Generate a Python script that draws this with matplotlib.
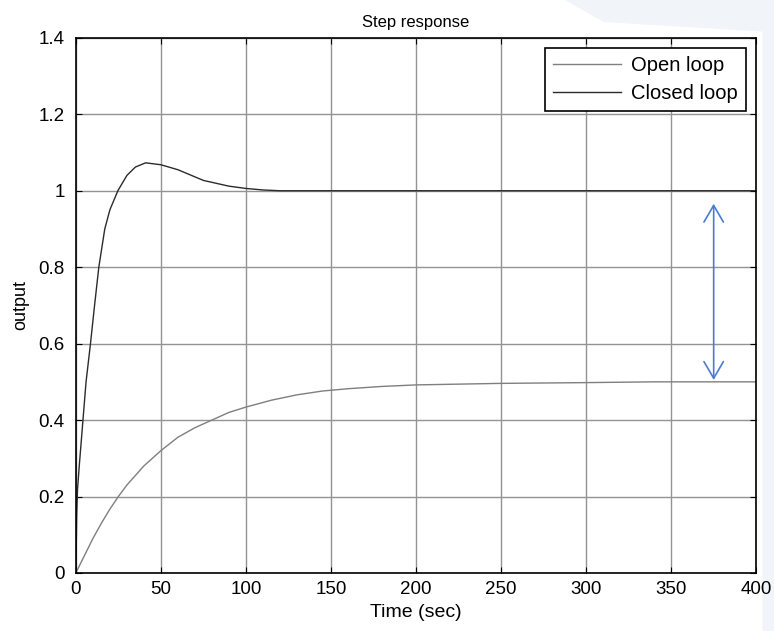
import matplotlib.pyplot as plt
from matplotlib.patches import Polygon

# values
t_open = [0, 5, 10, 15, 20, 25, 30, 40, 50, 60, 70, 80, 90, 100, 115, 130, 145,
          160, 180, 200, 250, 300, 340, 400]
y_open = [0, 0.045, 0.09, 0.13, 0.167, 0.2, 0.23, 0.28, 0.32, 0.355, 0.38, 0.40,
          0.42, 0.434, 0.452, 0.466, 0.476, 0.482, 0.488, 0.492, 0.496, 0.498,
          0.5, 0.5]

t_closed = [0, 0.5, 1, 2, 4, 6, 8.6, 11, 13.5, 17, 20, 24.7, 30, 35, 41, 50, 60,
            75, 90, 100, 110, 120, 400]
y_closed = [0, 0.15, 0.22, 0.28, 0.39, 0.5, 0.6, 0.7, 0.8, 0.9, 0.95, 1.0, 1.04,
            1.062, 1.073, 1.068, 1.055, 1.027, 1.012, 1.006, 1.002, 1.0, 1.0]

arrow_t = 375
arrow_lo = 0.505
arrow_hi = 0.966

plt.rcParams['font.family'] = ['Liberation Sans', 'DejaVu Sans']

fig = plt.figure(figsize=(7.74, 6.31), dpi=100)
# faint slide background in the top right corner
bg = Polygon([[0.73, 1.0], [1.0, 1.0], [1.0, 0.0], [0.985, 0.0],
              [0.985, 0.95], [0.78, 0.965]],
             closed=True, transform=fig.transFigure,
             facecolor='#f1f4f8', edgecolor='none', zorder=-5)
fig.patches.append(bg)
ax = fig.add_axes([0.098, 0.092, 0.879, 0.848])

ax.plot(t_open, y_open, color='#7f7f7f', lw=1, label='Open loop')
ax.plot(t_closed, y_closed, color='#2b2b2b', lw=1, label='Closed loop')

ax.annotate('', xy=(arrow_t, arrow_lo), xytext=(arrow_t, arrow_hi),
            arrowprops=dict(arrowstyle='<->,head_length=0.6,head_width=0.35',
                            color='#4a7bd0', lw=1.2, mutation_scale=20,
                            shrinkA=0, shrinkB=0))

ax.set_xlim(0, 400)
ax.set_ylim(0, 1.4)
ax.set_xticks(range(0, 401, 50))
ax.set_yticks([0, 0.2, 0.4, 0.6, 0.8, 1, 1.2, 1.4])
ax.set_yticklabels(['0', '0.2', '0.4', '0.6', '0.8', '1', '1.2', '1.4'])
ax.grid(True, color='#939393', lw=1)
ax.set_axisbelow(True)
ax.tick_params(direction='in', length=4, labelsize=13.5, top=True, right=True,
               color='black')
ax.tick_params(axis='y', pad=8)
ax.tick_params(axis='x', pad=6)
for s in ax.spines.values():
    s.set_linewidth(1.2)

ax.set_title('Step response', fontsize=12, pad=8)
ax.set_xlabel('Time (sec)', fontsize=14, labelpad=4)
ax.set_ylabel('output', fontsize=13, labelpad=7)

leg = ax.legend(loc='upper right', fontsize=14.5, fancybox=False, framealpha=1,
                edgecolor='black', borderaxespad=0.5, handlelength=3.4,
                borderpad=0.4, labelspacing=0.45, handletextpad=0.5)
leg.get_frame().set_linewidth(1.2)

fig.savefig('out.png', dpi=100, facecolor='white')
